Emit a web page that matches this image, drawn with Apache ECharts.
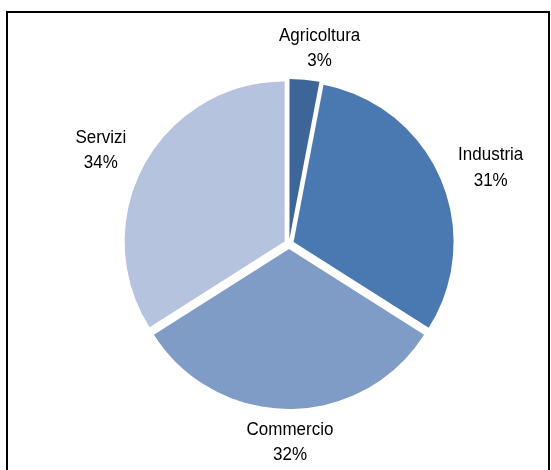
<!DOCTYPE html>
<html>
<head>
<meta charset="utf-8">
<style>
  html, body { margin: 0; padding: 0; background: #ffffff; }
  #chart { width: 551px; height: 470px; }
</style>
<script src="https://cdn.jsdelivr.net/npm/echarts@6/dist/echarts.min.js"></script>
</head>
<body>
<div id="chart"></div>
<script>
// Sector shares (%)
const categories = ['Agricoltura', 'Industria', 'Commercio', 'Servizi'];
const shares = [3, 31, 32, 34];
const sliceColors = ['#3d6597', '#4a78b0', '#7f9cc7', '#b5c3de'];

const pieCenter = [289, 244];
const pieRadius = 160;

// small per-label nudges (px) applied after the radial placement
const labelNudge = [[12, 1], [5, 9], [1, 2], [-1, 9]];

const total = shares.reduce((a, b) => a + b, 0);
// mid angle of each slice, clockwise from 12 o'clock
const midAngles = [];
let acc = 0;
shares.forEach(v => {
  midAngles.push((acc + v / 2) / total * Math.PI * 2);
  acc += v;
});

// category labels set just outside each slice
const labelTexts = categories.map((name, i) => {
  const a = midAngles[i];
  const dx = Math.sin(a), dy = -Math.cos(a);
  const dist = 196 + 20 * Math.abs(dx);
  return {
    type: 'text',
    x: pieCenter[0] + dx * dist + labelNudge[i][0],
    y: pieCenter[1] + dy * dist + labelNudge[i][1],
    scaleY: 1.1,
    silent: true,
    style: {
      text: name + '\n' + shares[i] + '%',
      align: 'center',
      verticalAlign: 'middle',
      fontFamily: '"Liberation Sans", Arial, sans-serif',
      fontSize: 17,
      lineHeight: 23,
      fill: '#000000'
    }
  };
});

const chart = echarts.init(document.getElementById('chart'), null, { renderer: 'canvas' });

chart.setOption({
  animation: false,
  backgroundColor: '#ffffff',
  graphic: [{
    type: 'rect',
    shape: { x: 7, y: 12, width: 542, height: 470 },
    style: { fill: 'none', stroke: '#000000', lineWidth: 2 },
    silent: true
  }].concat(labelTexts),
  series: [{
    type: 'pie',
    center: pieCenter,
    radius: pieRadius,
    startAngle: 90,
    clockwise: true,
    selectedMode: 'multiple',
    selectedOffset: 5,
    emphasis: { disabled: true },
    select: { itemStyle: { borderWidth: 0 } },
    itemStyle: { borderWidth: 0 },
    label: { show: false },
    labelLine: { show: false },
    data: categories.map((name, i) => ({
      name: name,
      value: shares[i],
      selected: true,
      itemStyle: { color: sliceColors[i] }
    }))
  }]
});
</script>
</body>
</html>
